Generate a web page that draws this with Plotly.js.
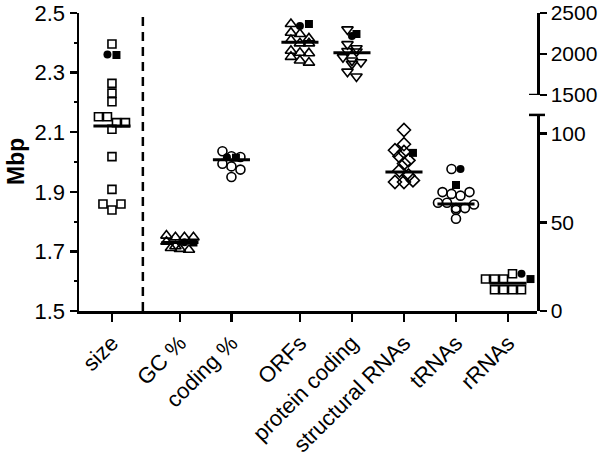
<!DOCTYPE html>
<html>
<head>
<meta charset="utf-8">
<script src="https://cdn.plot.ly/plotly-3.0.1.min.js"></script>
<style>html,body{margin:0;padding:0;background:#fff;}#chart{width:600px;height:458px;}</style>
</head>
<body>
<div id="chart"></div>
<script>
// ---------- data ----------
const categories = ["size", "GC %", "coding %", "ORFs", "protein coding", "structural RNAs", "tRNAs", "rRNAs"];
// genome size (Mbp, left axis)
const sizeMbp = [2.396, 2.264, 2.231, 2.202, 2.152, 2.152, 2.132, 2.132, 2.110, 2.018, 1.908, 1.859, 1.839, 1.859];
// percentages (lower right axis)
const gcPct = [42.5, 41.5, 41.5, 41.5, 39.0, 36.5, 35.5, 35.0, 34.5];
const codingPct = [90, 87.2, 86.8, 83, 81.5, 79.7, 75.5];
// gene counts (upper right axis)
const orfs = [2366, 2260, 2244, 2190, 2170, 2130, 2130, 2040, 2015, 2010, 1965, 1920, 1895];
const proteinCoding = [2300, 2120, 2070, 2035, 2030, 1960, 1920, 1900, 1880, 1785, 1725];
// RNA counts (lower right axis)
const structuralRNAs = [102, 94, 90.6, 87.2, 89.7, 84.9, 83.1, 79.1, 76.4, 72.7, 72.7, 73.6];
const tRNAs = [80, 67, 66, 65, 67, 61, 61, 58, 57, 58, 52, 60];
const rRNAs = [12, 12, 12, 12, 18, 18, 18, 21];
// two highlighted genomes (filled circle / filled square), one value per category
const filledCircle = [2.361, 38.8, 86.6, 2341, 2220, null, 80, 21];
const filledSquare = [2.359, 38.6, 86.4, 2366, 2244, 89.1, 71, 18];
// median bars
const medians = [2.121, 38.6, 85.3, 2143, 2016, 78.4, 60.3, 15.6];

// ---------- layout constants ----------
const groups = [sizeMbp, gcPct, codingPct, orfs, proteinCoding, structuralRNAs, tRNAs, rRNAs];
const POS = [0.64, 1.96, 2.96, 4.29, 5.30, 6.31, 7.32, 8.33];
const XMAX = 8.893, DASH_X = 1.24;
const axisOf = ["y", "y3", "y3", "y2", "y2", "y3", "y3", "y3"];
const symbolOf = ["square-open", "triangle-up-open", "circle-open", "triangle-up-open",
                  "triangle-down-open", "diamond-open", "circle-open", "square-open"];
const sizeOf = [8, 10, 9, 10, 10, 10, 9, 8];
const M = {l: 79, r: 63, t: 13, b: 147};
const W = 600, H = 458;
const plotW = W - M.l - M.r, plotH = H - M.t - M.b;
const yRanges = {y: [1.5, 2.5], y2: [1500, 2500], y3: [0, 110.5]};
const yDomains = {y: [0, 1], y2: [0.7248, 1], y3: [0, 0.658]};
function pxPerUnit(ax) {
  const d = yDomains[ax], r = yRanges[ax];
  return (d[1] - d[0]) * plotH / (r[1] - r[0]);
}
const xPx = plotW / XMAX;

// row-based dot spreading: points of similar value are grouped into a row and laid side by side
function spread(vals, ppu) {
  const rowH = 6, spacing = 9;
  const idx = vals.map((v, i) => i).filter(i => vals[i] != null).sort((a, b) => vals[b] - vals[a]);
  const rows = [];
  idx.forEach(i => {
    const cur = rows[rows.length - 1];
    if (cur && (vals[cur[0]] - vals[i]) * ppu <= rowH) cur.push(i); else rows.push([i]);
  });
  const off = new Array(vals.length).fill(0);
  rows.forEach(ids => {
    ids.sort((a, b) => a - b);
    const n = ids.length;
    ids.forEach((id, k) => { off[id] = (k - (n - 1) / 2) * spacing; });
  });
  return off;
}

const traces = [];
groups.forEach((vals, g) => {
  const ax = axisOf[g];
  const all = vals.concat([filledCircle[g], filledSquare[g]]);
  const off = spread(all, pxPerUnit(ax));
  const xs = all.map((v, i) => POS[g] + off[i] / xPx);
  const n = vals.length;
  traces.push({
    type: "scatter", mode: "markers", xaxis: "x", yaxis: ax, cliponaxis: false,
    x: xs.slice(0, n), y: vals, hoverinfo: "skip", showlegend: false,
    marker: {symbol: symbolOf[g], size: sizeOf[g], color: "#000", line: {color: "#000", width: 1.6}}
  });
  if (filledCircle[g] != null) traces.push({
    type: "scatter", mode: "markers", xaxis: "x", yaxis: ax, cliponaxis: false,
    x: [xs[n]], y: [filledCircle[g]], showlegend: false,
    marker: {symbol: "circle", size: 8, color: "#000"}
  });
  if (filledSquare[g] != null) traces.push({
    type: "scatter", mode: "markers", xaxis: "x", yaxis: ax, cliponaxis: false,
    x: [xs[n + 1]], y: [filledSquare[g]], showlegend: false,
    marker: {symbol: "square", size: 8, color: "#000"}
  });
  traces.push({
    type: "scatter", mode: "lines", xaxis: "x", yaxis: ax, cliponaxis: false,
    x: [POS[g] - 0.36, POS[g] + 0.36], y: [medians[g], medians[g]], showlegend: false,
    line: {color: "#000", width: 3}
  });
});

const FONT = "Liberation Sans, Arial, sans-serif";
const baseY = {
  showgrid: false, zeroline: false, showline: true, linecolor: "#000", linewidth: 2.5,
  ticks: "outside", ticklen: 7, tickwidth: 2.5, tickcolor: "#000", fixedrange: true
};
const layout = {
  width: W, height: H, margin: M,
  paper_bgcolor: "#fff", plot_bgcolor: "rgba(0,0,0,0)",
  showlegend: false,
  xaxis: {
    range: [0, XMAX], showgrid: false, zeroline: false, showline: true, linecolor: "#000", linewidth: 2.5,
    ticks: "outside", ticklen: 8, tickwidth: 2.5, tickcolor: "#000",
    tickvals: POS, ticktext: categories, tickangle: -45,
    tickfont: {family: FONT, size: 22, color: "#000"},
    anchor: "y", fixedrange: true
  },
  yaxis: Object.assign({}, baseY, {
    range: yRanges.y, domain: yDomains.y, anchor: "x", side: "left",
    tick0: 1.5, dtick: 0.2, tickformat: ".1f",
    tickfont: {family: FONT, size: 22, color: "#000"},
    minor: {ticks: "outside", ticklen: 3, tickwidth: 2, tickcolor: "#000", dtick: 0.1, tick0: 1.5, showgrid: false}
  }),
  yaxis2: Object.assign({}, baseY, {
    range: yRanges.y2, domain: yDomains.y2, anchor: "x", side: "right",
    tickvals: [1500, 2000, 2500], tickfont: {family: FONT, size: 21, color: "#000"}
  }),
  yaxis3: Object.assign({}, baseY, {
    range: yRanges.y3, domain: yDomains.y3, anchor: "x", side: "right",
    tickvals: [0, 50, 100], tickfont: {family: FONT, size: 21, color: "#000"}
  }),
  shapes: [
    {type: "line", xref: "x", yref: "paper", x0: DASH_X, x1: DASH_X, y0: 0, y1: 1,
     line: {color: "#000", width: 2.5, dash: "9px,6px"}},
    {type: "line", xref: "paper", xsizemode: "pixel", xanchor: 1, x0: -8, x1: 0,
     yref: "y2", y0: 1500, y1: 1500, line: {color: "#000", width: 2.5}},
    {type: "line", xref: "paper", xsizemode: "pixel", xanchor: 1, x0: -8, x1: 8,
     yref: "y3 domain", y0: 1, y1: 1, line: {color: "#000", width: 2.5}}
  ],
  annotations: [
    {text: "<b>Mbp</b>", xref: "paper", yref: "paper", x: 0, y: 0.5, xshift: -63,
     xanchor: "center", yanchor: "middle", textangle: -90, showarrow: false,
     font: {family: FONT, size: 23, color: "#000"}}
  ]
};
Plotly.newPlot("chart", traces, layout, {staticPlot: true, displayModeBar: false});
</script>
</body>
</html>
